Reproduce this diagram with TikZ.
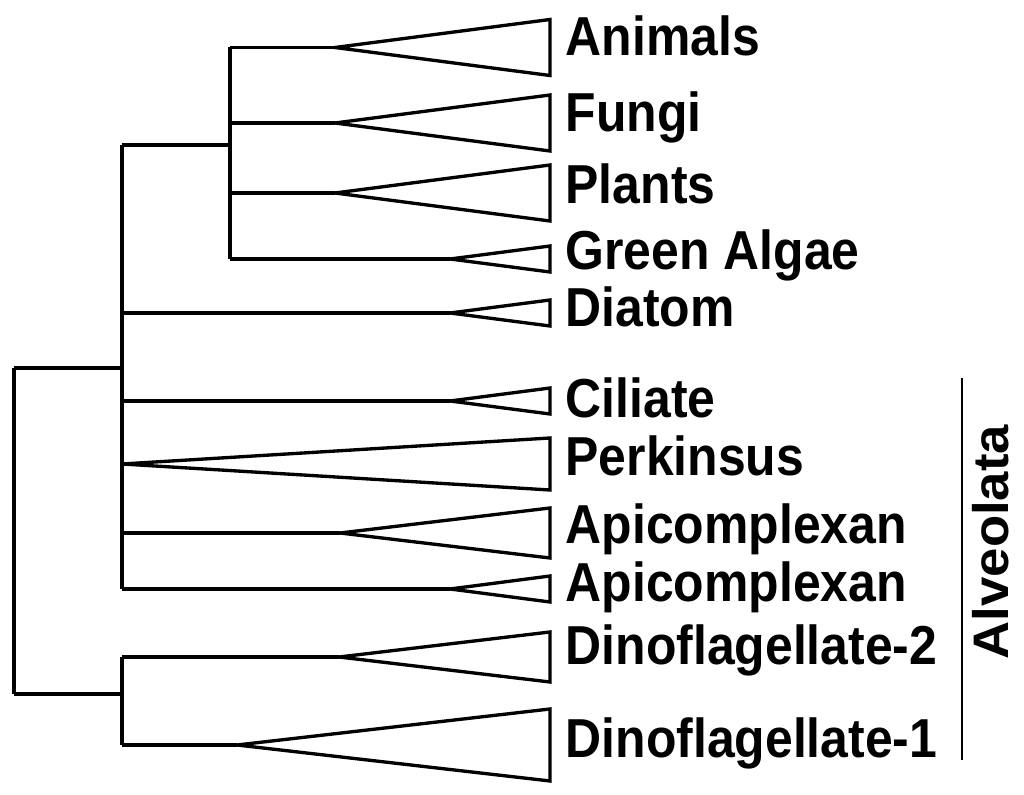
\documentclass[tikz,border=0pt]{standalone}
\usepackage{fontspec}
\setmainfont{Liberation Sans}
\tikzset{
  lab/.style={anchor=base west, inner sep=0pt, yscale=1.1, font=\fontsize{28.4}{34}\selectfont\bfseries},
  clade/.style={line width=1.9pt}
}
\begin{document}
\begin{tikzpicture}[clade]
\useasboundingbox (0,0) rectangle (20.48,15.9);

% internal branch points
\coordinate (rootA)  at (0.28,8.54);
\coordinate (rootB)  at (0.28,2.02);
\coordinate (mainR)  at (2.44,8.54);
\coordinate (mainA)  at (2.44,13.0);
\coordinate (dinoR)  at (2.44,2.02);
\coordinate (innerR) at (4.6,13.0);
\coordinate (base)   at (11.0,0);

% apex of each collapsed clade
\coordinate (animals)   at (6.7,14.95);
\coordinate (fungi)     at (6.7,13.44);
\coordinate (plants)    at (6.7,12.04);
\coordinate (algae)     at (9.0,10.72);
\coordinate (diatom)    at (9.0,9.64);
\coordinate (ciliate)   at (9.0,7.88);
\coordinate (perkinsus) at (2.44,6.62);
\coordinate (apicoA)    at (6.8,5.24);
\coordinate (apicoB)    at (9.0,4.12);
\coordinate (dinoB)     at (6.78,2.76);
\coordinate (dinoA)     at (4.74,1.0);

% backbone
\draw (rootA) -- (rootB);
\draw (rootA) -- (mainR);
\draw (rootB) -- (dinoR);
\draw (mainA) -- (mainA |- apicoB);
\draw (mainA) -- (innerR);
\draw (innerR |- animals) -- (innerR |- algae);
\draw (dinoR |- dinoB) -- (dinoR |- dinoA);

% stems
\foreach \t in {animals,fungi,plants,algae}
  \draw (innerR |- \t) -- (\t);
\foreach \t in {diatom,ciliate,apicoA,apicoB,dinoB,dinoA}
  \draw (mainR |- \t) -- (\t);

% triangles
\foreach \t/\h in {animals/0.56,fungi/0.56,plants/0.56,algae/0.26,diatom/0.26,
                   ciliate/0.26,perkinsus/0.52,apicoA/0.5,apicoB/0.26,dinoB/0.5,dinoA/0.72}
  \draw (\t) -- ([yshift=\h cm]\t -| base) -- ([yshift=-\h cm]\t -| base) -- cycle;

% labels
\node[lab] (l-animals)   at (11.28,14.78) {Animals};
\node[lab] (l-fungi)     at (11.28,13.26) {Fungi};
\node[lab] (l-plants)    at (11.28,11.82) {Plants};
\node[lab] (l-algae)     at (11.28,10.5)  {Green Algae};
\node[lab] (l-diatom)    at (11.28,9.36)  {Diatom};
\node[lab] (l-ciliate)   at (11.28,7.54)  {Ciliate};
\node[lab] (l-perkinsus) at (11.28,6.38)  {Perkinsus};
\node[lab] (l-apicoA)    at (11.28,5.02)  {Apicomplexan};
\node[lab] (l-apicoB)    at (11.28,3.86)  {Apicomplexan};
\node[lab] (l-dinoB)     at (11.28,2.6)   {Dinoflagellate-2};
\node[lab] (l-dinoA)     at (11.28,0.74)  {Dinoflagellate-1};

% alveolata bar
\coordinate (alvA) at (19.24,8.34);
\coordinate (alvB) at (19.24,0.7);
\draw[line width=1.3pt] (alvA) -- (alvB);
\node[lab,anchor=center,rotate=90,xscale=0.96] (alv) at (19.82,5.06) {Alveolata};
\end{tikzpicture}
\end{document}
